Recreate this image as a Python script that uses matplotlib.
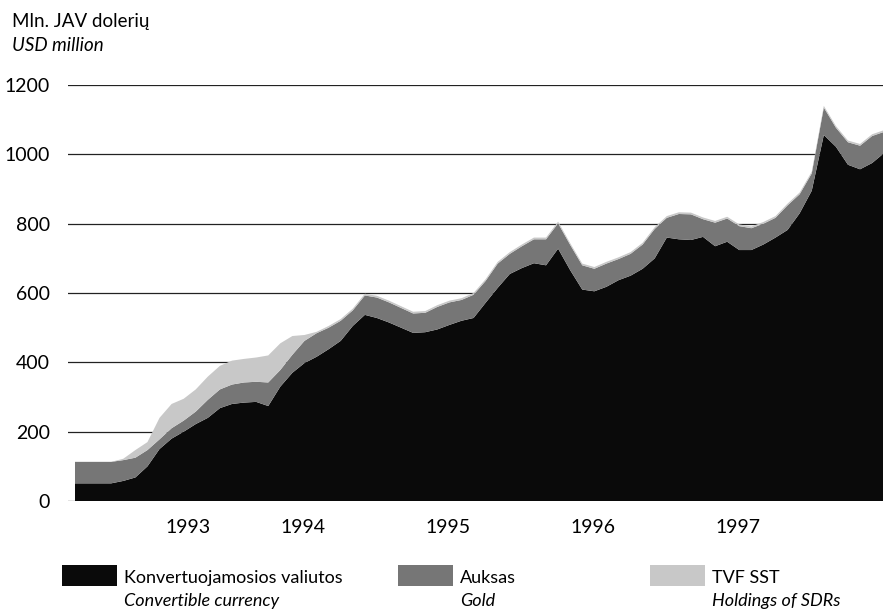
import matplotlib.pyplot as plt
from matplotlib.patches import Rectangle

plt.rcParams['font.family'] = ['Lato', 'DejaVu Sans']
FontSize = 13

# monthly values, USD million
convertible = [51, 51, 51, 51, 58, 68, 100, 150, 180, 200, 222, 240, 268, 280, 284, 286,
               274, 330, 370, 398, 416, 438, 462, 505, 537, 528, 515, 500, 485, 487, 495,
               508, 520, 528, 572, 615, 655, 672, 686, 680, 728, 666, 610, 605, 618, 637,
               650, 670, 700, 760, 755, 753, 762, 735, 748, 724, 724, 740, 760, 782, 830,
               895, 1056, 1022, 970, 957, 975, 1004]
gold = [62, 62, 62, 62, 60, 57, 47, 28, 30, 32, 36, 52, 54, 56, 58, 58,
        68, 48, 52, 64, 68, 62, 58, 45, 56, 59, 58, 57, 56, 56, 65,
        65, 60, 67, 63, 70, 58, 63, 69, 75, 73, 73, 70, 65, 67, 61,
        63, 70, 85, 57, 73, 74, 51, 68, 67, 69, 63, 60, 57, 71, 55,
        50, 79, 55, 65, 68, 78, 61]
sdr = [0, 0, 0, 0, 4, 22, 23, 62, 70, 63, 64, 67, 68, 69, 68, 70,
       78, 77, 54, 17, 4, 5, 5, 5, 5, 5, 5, 5, 5, 5, 5,
       5, 5, 5, 5, 5, 5, 5, 5, 5, 5, 5, 5, 5, 5, 5,
       5, 5, 5, 5, 5, 5, 5, 5, 5, 5, 5, 5, 5, 5, 5,
       5, 5, 5, 5, 5, 5, 5]
months = list(range(len(convertible)))

year_labels = ['1993', '1994', '1995', '1996', '1997']
year_pos = [9.35, 18.87, 30.87, 42.88, 54.88]

fig = plt.figure(figsize=(8.83, 6.14), dpi=100)
ax = fig.add_axes([0.077, 0.184, 0.923, 0.6775])

for y in range(0, 1201, 200):
    ax.axhline(y, color='#222222', linewidth=0.9, zorder=0)

ax.stackplot(months, convertible, gold, sdr,
             colors=['#0a0a0a', '#767676', '#c8c8c8'], linewidth=0, zorder=2)

ax.set_xlim(-0.58, 66.9)
ax.set_ylim(0, 1200)
ax.set_yticks(range(0, 1201, 200))
ax.set_xticks(year_pos)
ax.set_xticklabels(year_labels)
ax.tick_params(axis='both', length=0, labelsize=14)
ax.tick_params(axis='y', pad=13)
ax.tick_params(axis='x', pad=13)
for s in ax.spines.values():
    s.set_visible(False)

fig.text(12 / 883, 1 - 27 / 614, 'Mln. JAV dolerių', fontsize=FontSize + 0.5, va='baseline')
fig.text(12 / 883, 1 - 51 / 614, 'USD million', fontsize=FontSize + 0.5, style='italic', va='baseline')

legend_items = [
    (62, '#0a0a0a', 'Konvertuojamosios valiutos', 'Convertible currency'),
    (398, '#767676', 'Auksas', 'Gold'),
    (650, '#c8c8c8', 'TVF SST', 'Holdings of SDRs'),
]
for x0, col, lt, en in legend_items:
    fig.patches.append(Rectangle((x0 / 883, 1 - 586 / 614), 55 / 883, 21 / 614,
                                 transform=fig.transFigure, facecolor=col, edgecolor='none'))
    fig.text((x0 + 62) / 883, 1 - 583 / 614, lt, fontsize=FontSize, va='baseline')
    fig.text((x0 + 62) / 883, 1 - 606 / 614, en, fontsize=FontSize, style='italic', va='baseline')

fig.savefig('out.png', dpi=100)
